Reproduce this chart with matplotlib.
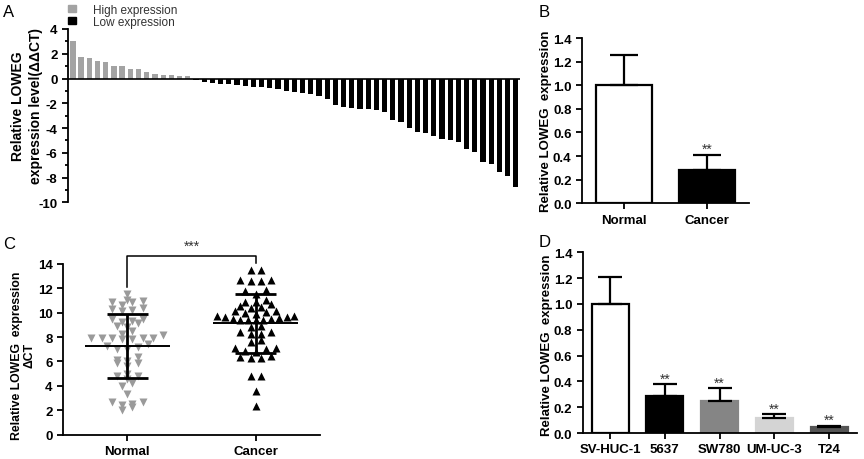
import numpy as np
import matplotlib
matplotlib.use('Agg')
import matplotlib.pyplot as plt
from matplotlib.patches import Patch
from matplotlib.ticker import MultipleLocator, FormatStrFormatter

plt.rcParams['font.family'] = ['Liberation Sans', 'DejaVu Sans']
plt.rcParams['axes.unicode_minus'] = False

# ---- A: waterfall of ddCT per sample
high_expr = [3.05, 1.7, 1.65, 1.38, 1.36, 1.05, 1.0, 0.8, 0.76, 0.5, 0.38, 0.3, 0.25, 0.2, 0.17]
low_expr = [-0.15, -0.25, -0.33, -0.42, -0.48, -0.53, -0.6, -0.66, -0.72, -0.76, -0.86, -0.97, -1.05,
            -1.14, -1.22, -1.38, -1.65, -2.15, -2.3, -2.38, -2.45, -2.48, -2.52, -2.7, -3.38, -3.5,
            -4.0, -4.32, -4.4, -4.65, -4.86, -5.0, -5.14, -5.72, -5.95, -6.76, -6.9, -7.57, -7.86, -8.78]

# ---- B: tissues
tissue_groups = ['Normal', 'Cancer']
tissue_mean = [1.0, 0.285]
tissue_err = [0.26, 0.125]

# ---- C: dCT scatter
normal_dct = [11.5,
              10.95, 10.9, 10.6, 10.9, 11.05,
              10.3, 10.1, 10.35, 10.25,
              9.5, 9.25, 8.9, 9.5, 8.8, 9.15, 9.35,
              8.5, 8.15, 7.9, 7.9, 7.85, 7.9, 7.85, 7.9, 7.95, 8.25,
              7.25, 7.05, 7.15, 7.05, 7.4,
              6.4, 6.05, 5.9, 5.6, 5.9, 6.15,
              4.95, 4.8, 4.55, 4.8, 4.0, 4.2,
              3.3,
              2.65, 2.45, 2.05, 2.3, 2.5, 2.65]
cancer_dct = [13.5, 13.5,
              12.7, 12.55, 12.55, 12.7,
              11.8, 11.87, 11.5,
              11.05,
              10.9, 10.7, 10.43, 10.15, 10.15, 10.34, 10.56, 10.83,
              10.02, 9.88, 9.74, 9.6, 9.47, 9.42, 9.42, 9.42, 9.42, 9.47, 9.55, 9.6, 9.74, 9.96,
              8.87, 8.79,
              8.38, 8.24, 8.24, 8.38,
              7.78, 7.56,
              7.07, 6.88, 6.74, 7.01, 7.07,
              6.41, 6.25, 6.25, 6.33,
              4.78, 4.83,
              3.6,
              2.32]
normal_stats = (7.24, 2.63)   # mean, SD
cancer_stats = (9.12, 2.39)

# ---- D: cell lines
cell_lines = ['SV-HUC-1', '5637', 'SW780', 'UM-UC-3', 'T24']
cell_mean = [1.0, 0.284, 0.25, 0.119, 0.046]
cell_err = [0.207, 0.093, 0.096, 0.028, 0.011]
cell_colors = ['white', 'black', '#858585', '#d4d4d4', '#555555']

TICK_FS = 9.5
STAR_FS = 10


def style_axis(ax):
    for s in ['top', 'right']:
        ax.spines[s].set_visible(False)
    for s in ['left', 'bottom']:
        ax.spines[s].set_linewidth(1.3)
    ax.tick_params(direction='out', width=1.3, length=4, labelsize=TICK_FS)
    for lab in ax.get_yticklabels():
        lab.set_fontweight('bold')


def swarm_offsets(vals, gap=0.4, step=0.08, maxhalf=0.3):
    vals = np.asarray(vals)
    order = np.argsort(vals, kind='stable')
    groups, cur = [], [order[0]]
    for i in order[1:]:
        if vals[i] - vals[cur[0]] > gap:
            groups.append(cur)
            cur = [i]
        else:
            cur.append(i)
    groups.append(cur)
    offs = np.zeros(len(vals))
    for g in groups:
        n = len(g)
        d = step if n < 2 else min(step, 2 * maxhalf / (n - 1))
        if n % 2:
            seq = [0] + [s * k for k in range(1, n) for s in (-1, 1)]
        else:
            seq = [s * (k - 0.5) for k in range(1, n) for s in (-1, 1)]
        for j, idx in enumerate(g):
            offs[idx] = seq[j] * d
    return offs


fig = plt.figure(figsize=(8.64, 4.6), dpi=100)

# ================= A
axA = fig.add_axes([0.0787, 0.558, 0.523, 0.3768])
vals = high_expr + low_expr
cols = ['#a3a3a3'] * len(high_expr) + ['black'] * len(low_expr)
xa = np.arange(len(vals))
axA.bar(xa, vals, 0.64, color=cols)
axA.axhline(0, color='black', lw=1.2)
axA.set_xlim(-0.6, len(vals) - 0.5)
axA.set_ylim(-10, 4)
axA.set_yticks(range(-10, 5, 2))
axA.yaxis.set_minor_locator(MultipleLocator(1))
axA.set_xticks([])
style_axis(axA)
axA.spines['bottom'].set_visible(False)
axA.tick_params(which='minor', direction='out', width=1.3, length=2.5)
axA.set_ylabel('Relative LOWEG\nexpression level(ΔΔCT)', fontsize=10, fontweight='bold',
               linespacing=1.3)
axA.yaxis.set_label_coords(-0.056, 0.56)
axA.legend(handles=[Patch(color='#a3a3a3', label='High expression'),
                    Patch(color='black', label='Low expression')],
           loc='upper left', bbox_to_anchor=(-0.012, 1.18), frameon=False, fontsize=8.5,
           handlelength=0.6, handleheight=0.6, handletextpad=1.5, labelspacing=0.0,
           borderpad=0, labelcolor='#333333')
fig.text(0.004, 0.972, 'A', fontsize=12, va='center')

# ================= B
axB = fig.add_axes([0.6736, 0.5559, 0.1933, 0.3593])
xb = np.arange(len(tissue_groups))
axB.bar(xb, tissue_mean, 0.67, color=['white', 'black'], edgecolor='black', lw=1.6)
axB.errorbar(xb, tissue_mean, yerr=[np.zeros(len(xb)), tissue_err], fmt='none',
             ecolor='black', elinewidth=1.6, capsize=10, capthick=1.6)
axB.text(xb[1], tissue_mean[1] + tissue_err[1] - 0.01, '**', ha='center', va='bottom',
         fontsize=STAR_FS, color='#333333')
axB.set_xlim(-0.5, 1.5)
axB.set_ylim(0, 1.4)
axB.set_yticks(np.arange(0, 1.41, 0.2))
axB.yaxis.set_major_formatter(FormatStrFormatter('%.1f'))
axB.set_xticks(xb)
axB.set_xticklabels(tissue_groups, fontweight='bold', fontsize=10.5)
style_axis(axB)
axB.set_ylabel('Relative LOWEG  expression', fontsize=9.5, fontweight='bold')
axB.yaxis.set_label_coords(-0.18, 0.5)
fig.text(0.623, 0.972, 'B', fontsize=12, va='center')

# ================= C
axC = fig.add_axes([0.0729, 0.0528, 0.2975, 0.3717])
for i, (data, stats, mk, col) in enumerate([(normal_dct, normal_stats, 'v', '#9a9a9a'),
                                            (cancer_dct, cancer_stats, '^', 'black')]):
    off = swarm_offsets(data)
    axC.plot(i + off, data, mk, color=col, ms=5.2, mec='none', clip_on=False)
    m, sd = stats
    axC.hlines(m, i - 0.33, i + 0.33, color='black', lw=1.4)
    axC.hlines([m - sd, m + sd], i - 0.16, i + 0.16, color='black', lw=2)
    axC.vlines(i, m - sd, m + sd, color='black', lw=2)
axC.plot([0, 0, 1, 1], [12.1, 14.66, 14.66, 14.1], color='black', lw=1.1, clip_on=False)
axC.text(0.5, 14.9, '***', ha='center', va='bottom', fontsize=STAR_FS, color='#333333')
axC.set_xlim(-0.5, 1.5)
axC.set_ylim(0, 14)
axC.set_yticks(range(0, 15, 2))
axC.set_xticks([0, 1])
axC.set_xticklabels(['Normal', 'Cancer'], fontweight='bold', fontsize=10)
style_axis(axC)
axC.set_ylabel('Relative LOWEG  expression\nΔCT', fontsize=8.8, fontweight='bold',
               linespacing=1.1)
axC.yaxis.set_label_coords(-0.105, 0.47)
fig.text(0.004, 0.468, 'C', fontsize=12, va='center')

# ================= D
axD = fig.add_axes([0.6744, 0.0565, 0.3171, 0.3928])
xd = np.arange(len(cell_lines))
axD.bar(xd, cell_mean, 0.675, color=cell_colors,
        edgecolor=['black'] + cell_colors[1:], lw=1.6)
axD.errorbar(xd, cell_mean, yerr=[np.zeros(len(xd)), cell_err], fmt='none',
             ecolor='black', elinewidth=1.6, capsize=8.5, capthick=1.6)
for x, m, e in zip(xd[1:], cell_mean[1:], cell_err[1:]):
    axD.text(x, m + e - 0.012, '**', ha='center', va='bottom', fontsize=STAR_FS, color='#333333')
axD.set_xlim(-0.5, 4.5)
axD.set_ylim(0, 1.4)
axD.set_yticks(np.arange(0, 1.41, 0.2))
axD.yaxis.set_major_formatter(FormatStrFormatter('%.1f'))
axD.set_xticks(xd)
axD.set_xticklabels(cell_lines, fontweight='bold', fontsize=11)
style_axis(axD)
axD.set_ylabel('Relative LOWEG  expression', fontsize=9.5, fontweight='bold')
axD.yaxis.set_label_coords(-0.108, 0.49)
fig.text(0.623, 0.472, 'D', fontsize=12, va='center')

fig.savefig('out.png', dpi=100, facecolor='white')
